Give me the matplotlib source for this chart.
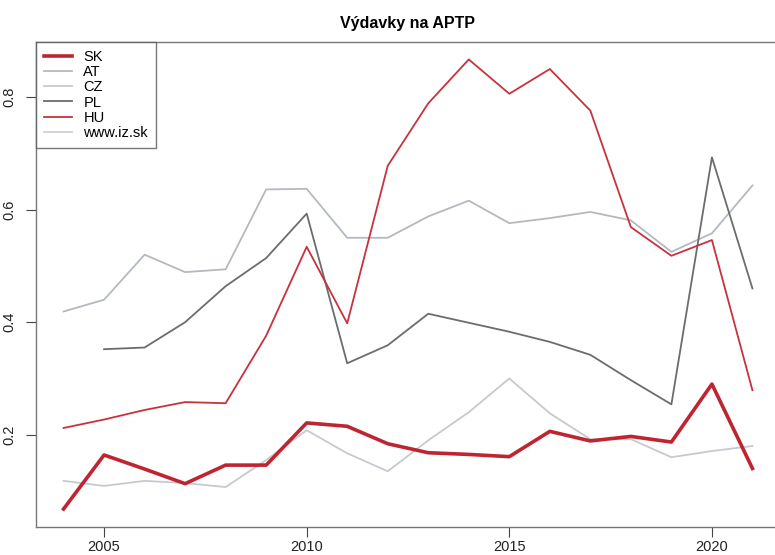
import matplotlib
matplotlib.use("Agg")
import matplotlib.pyplot as plt

# ─── Datos ────────────────────────────────────────────────────────────────────
years = list(range(2004, 2022))

sk = [0.068, 0.164, 0.139, 0.113, 0.146, 0.146, 0.221, 0.215, 0.184, 0.168,
      0.165, 0.161, 0.206, 0.189, 0.197, 0.187, 0.290, 0.140]
at = [0.419, 0.440, 0.520, 0.489, 0.494, 0.636, 0.637, 0.550, 0.550, 0.588,
      0.616, 0.576, 0.585, 0.596, 0.581, 0.525, 0.558, 0.643]
cz = [0.118, 0.109, 0.118, 0.114, 0.107, 0.155, 0.208, 0.167, 0.135, 0.190,
      0.240, 0.300, 0.238, 0.192, 0.192, 0.160, 0.171, 0.180]
pl_years = list(range(2005, 2022))
pl = [0.352, 0.355, 0.400, 0.464, 0.514, 0.593, 0.327, 0.359, 0.415, 0.399,
      0.383, 0.365, 0.342, 0.297, 0.254, 0.693, 0.460]
hu = [0.212, 0.227, 0.244, 0.258, 0.256, 0.376, 0.534, 0.398, 0.678, 0.789,
      0.867, 0.806, 0.850, 0.776, 0.569, 0.518, 0.546, 0.279]

x_ticks = [2005, 2010, 2015, 2020]
y_ticks = [0.2, 0.4, 0.6, 0.8]

plt.rcParams["font.family"] = ["Liberation Sans", "DejaVu Sans"]

fig = plt.figure(figsize=(7.75, 5.55), dpi=100)
ax = fig.add_axes([36 / 775, 1 - 527 / 555, 744 / 775, 485 / 555])

ax.plot(years, sk, color="#bf2530", lw=2.6, label="SK", zorder=5)
ax.plot(years, at, color="#b4b9c0", lw=1.3, label="AT")
ax.plot(years, cz, color="#c6cad0", lw=1.3, label="CZ")
ax.plot(pl_years, pl, color="#6c6c6c", lw=1.3, label="PL")
ax.plot(years, hu, color="#c8323c", lw=1.3, label="HU")
ax.plot([], [], color="#d0d0d0", lw=1.3, label="www.iz.sk")

ax.set_xlim(2003.32, 2021.68)
ax.set_ylim(0.036, 0.898)
ax.set_xticks(x_ticks)
ax.set_yticks(y_ticks)
ax.set_yticklabels([f"{v:.1f}" for v in y_ticks], rotation=90, va="center")
ax.tick_params(axis="both", labelsize=10.5, length=7, width=0.8,
               color="#444444", labelcolor="#222222", direction="out")
ax.tick_params(axis="x", pad=2.5)
ax.tick_params(axis="y", pad=7)

for s in ax.spines.values():
    s.set_color("#777777")
    s.set_linewidth(1.0)

ax.set_title("Výdavky na APTP", fontsize=11.5, fontweight="bold", pad=10)

leg = ax.legend(loc="upper left", bbox_to_anchor=(0.0, 1.0), borderaxespad=0,
                fontsize=10.5, frameon=True, fancybox=False, handlelength=1.9,
                handletextpad=0.8, labelspacing=0.08, borderpad=0.55)
leg.get_frame().set_edgecolor("#555555")
leg.get_frame().set_linewidth(1.0)

fig.savefig("out.png", dpi=100)
plt.close(fig)
